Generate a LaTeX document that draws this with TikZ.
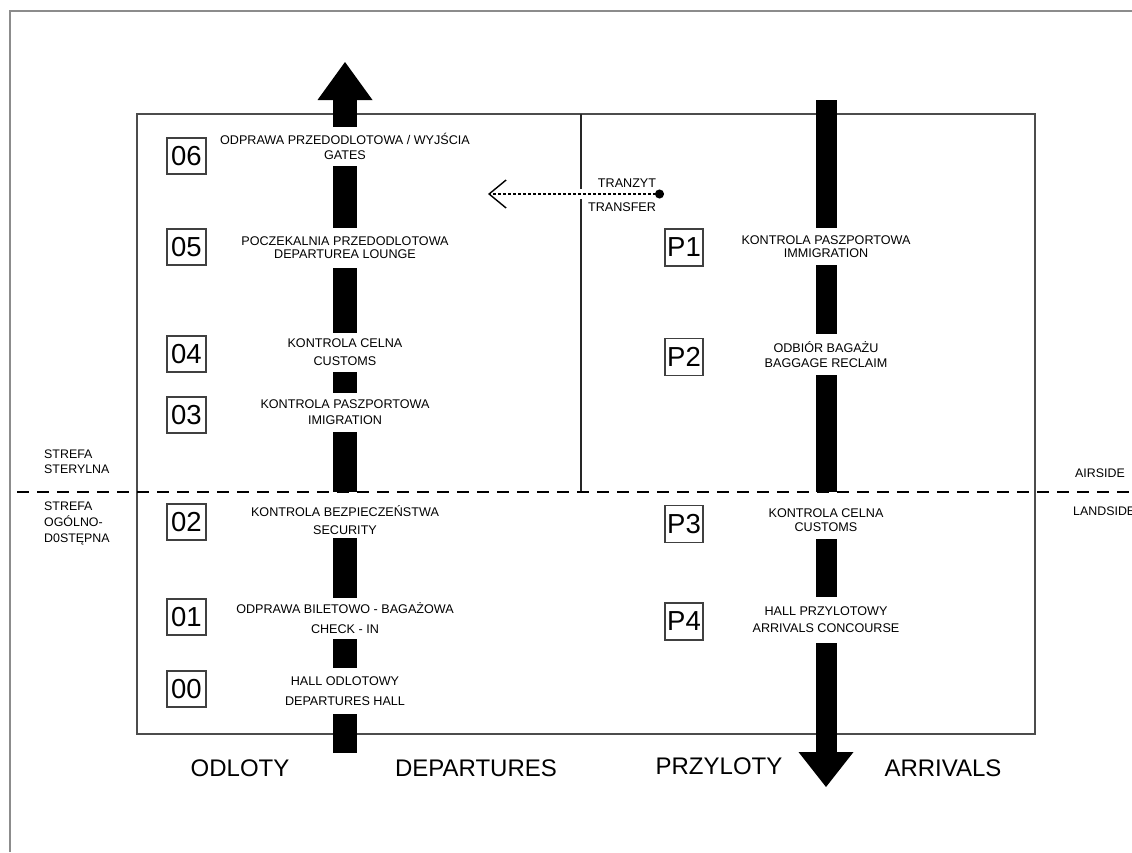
\documentclass[tikz,border=0pt]{standalone}
\usepackage{fontspec}
\setmainfont{Liberation Sans}
\usetikzlibrary{arrows.meta}

\tikzset{
    stage/.style={font=\fontsize{12.6}{15}\selectfont, align=center, inner sep=0pt},
    numbox/.style={draw=black!75, line width=1.2pt, font=\fontsize{27.5}{27.5}\selectfont,
        minimum width=39pt, minimum height=36pt, inner sep=0pt},
    zonetext/.style={font=\fontsize{12.4}{15}\selectfont, align=left, anchor=west, inner sep=0pt},
    bigtext/.style={font=\fontsize{24}{24}\selectfont, inner sep=0pt},
    depflow/.style={line width=24pt},
    arrflow/.style={line width=21pt},
    bighead/.style={-{Triangle[width=55pt, length=#1, line width=0pt]}},
    transferline/.style={line width=1.4pt, dash pattern=on 3pt off 2pt,
        {Circle[length=9pt]}-{Straight Barb[length=17pt, width=28pt]}}
}

\begin{document}
\begin{tikzpicture}[x=1pt, y=-1pt]
                \useasboundingbox (0,0) rectangle (1132,852);
                \draw[black!45, line width=1.8pt] (10,852) -- (10,11) -- (1132,11);
                \draw[black!70, line width=1.2pt] (137,114) rectangle (1035,734);

                \coordinate (zone-l) at (17,492);
                \coordinate (zone-r) at (1132,492);
                \draw[black!85, line width=1.8pt] (581,114) -- (581,189);
                \draw[black!85, line width=1.8pt] (581,199) -- (581,492);
                \draw[line width=2.5pt, dash pattern=on 12pt off 8pt] (zone-l) -- (zone-r);

                \node[zonetext] (sterile) at (44,461.5) {STREFA\\STERYLNA};
                \node[zonetext] (public) at (44,523) {STREFA\\[1pt]OGÓLNO-\\[1pt]D0STĘPNA};
                \node[zonetext] (airside) at (1075,473) {AIRSIDE};
                \node[zonetext] (landside) at (1073,511) {LANDSIDE};

                \node[numbox] (n06) at (186.5,156) {06};
                \node[numbox] (n05) at (186.5,247) {05};
                \node[numbox] (n04) at (186.5,354) {04};
                \node[numbox] (n03) at (186.5,415) {03};
                \node[numbox] (n02) at (186.5,522) {02};
                \node[numbox] (n01) at (186.5,617) {01};
                \node[numbox] (n00) at (186.5,689) {00};

                \node[stage, minimum height=39pt] (d06) at (345,146.5) {ODPRAWA PRZEDODLOTOWA / WYJŚCIA\\GATES};
                \node[stage, minimum height=40pt] (d05) at (345,248) {POCZEKALNIA PRZEDODLOTOWA\\[-2pt]DEPARTUREA LOUNGE};
                \node[stage, minimum height=39pt] (d04) at (345,352.5) {KONTROLA CELNA\\[3pt]CUSTOMS};
                \node[stage, minimum height=39pt] (d03) at (345,412.5) {KONTROLA PASZPORTOWA\\[1pt]IMIGRATION};
                \node[stage, minimum height=36pt] (d02) at (345,520) {KONTROLA BEZPIECZEŃSTWA\\[3pt]SECURITY};
                \node[stage, minimum height=41pt] (d01) at (345,618.5) {ODPRAWA BILETOWO - BAGAŻOWA\\[5pt]CHECK - IN};
                \node[stage, minimum height=46pt] (d00) at (345,691) {HALL ODLOTOWY\\[5pt]DEPARTURES HALL};

                \coordinate (dep-in) at (345,753);
                \coordinate (dep-out) at (345,62);
                \draw[depflow] (dep-in) -- (d00.south);
                \draw[depflow] (d00.north) -- (d01.south);
                \draw[depflow] (d01.north) -- (d02.south);
                \draw[depflow] (d03.south) -- (d03.south |- zone-l);
                \draw[depflow] (d03.north) -- (d04.south);
                \draw[depflow] (d04.north) -- (d05.south);
                \draw[depflow] (d05.north) -- (d06.south);
                \draw[depflow, bighead=38pt] (d06.north) -- (dep-out);

                \node[numbox, minimum width=38pt, minimum height=37pt] (p1) at (684,247.5) {P1};
                \node[numbox, minimum width=38pt, minimum height=37pt] (p2) at (684,357) {P2};
                \node[numbox, minimum width=38pt, minimum height=37pt] (p3) at (684,524) {P3};
                \node[numbox, minimum width=38pt, minimum height=37pt] (p4) at (684,621.5) {P4};

                \node[stage, minimum height=37pt] (a1) at (826,246.5) {KONTROLA PASZPORTOWA\\[-2pt]IMMIGRATION};
                \node[stage, minimum height=41pt] (a2) at (826,354.5) {ODBIÓR BAGAŻU\\BAGGAGE RECLAIM};
                \node[stage, minimum height=38pt] (a3) at (826,520) {KONTROLA CELNA\\[-1pt]CUSTOMS};
                \node[stage, minimum height=46pt] (a4) at (826,620) {HALL PRZYLOTOWY\\[2pt]ARRIVALS CONCOURSE};

                \coordinate (arr-in) at (826,100);
                \coordinate (arr-out) at (826,787);
                \draw[arrflow] (arr-in) -- (a1.north);
                \draw[arrflow] (a1.south) -- (a2.north);
                \draw[arrflow] (a2.south) -- (a2.south |- zone-l);
                \draw[arrflow] (a3.south) -- (a4.north);
                \draw[arrflow, bighead=35pt] (a4.south) -- (arr-out);

                \coordinate (tr-src) at (664,194);
                \coordinate (tr-dst) at (488,194);
                \draw[transferline] (tr-src) -- (tr-dst);
                \node[stage] (tranzyt) at (627,183) {TRANZYT};
                \node[stage] (transfer) at (622,207) {TRANSFER};

                \node[bigtext] (odloty) at (240,768) {ODLOTY};
                \node[bigtext] (departures) at (476,768) {DEPARTURES};
                \node[bigtext] (przyloty) at (719,766) {PRZYLOTY};
                \node[bigtext] (arrivals) at (943,768) {ARRIVALS};
            \end{tikzpicture}
\end{document}
